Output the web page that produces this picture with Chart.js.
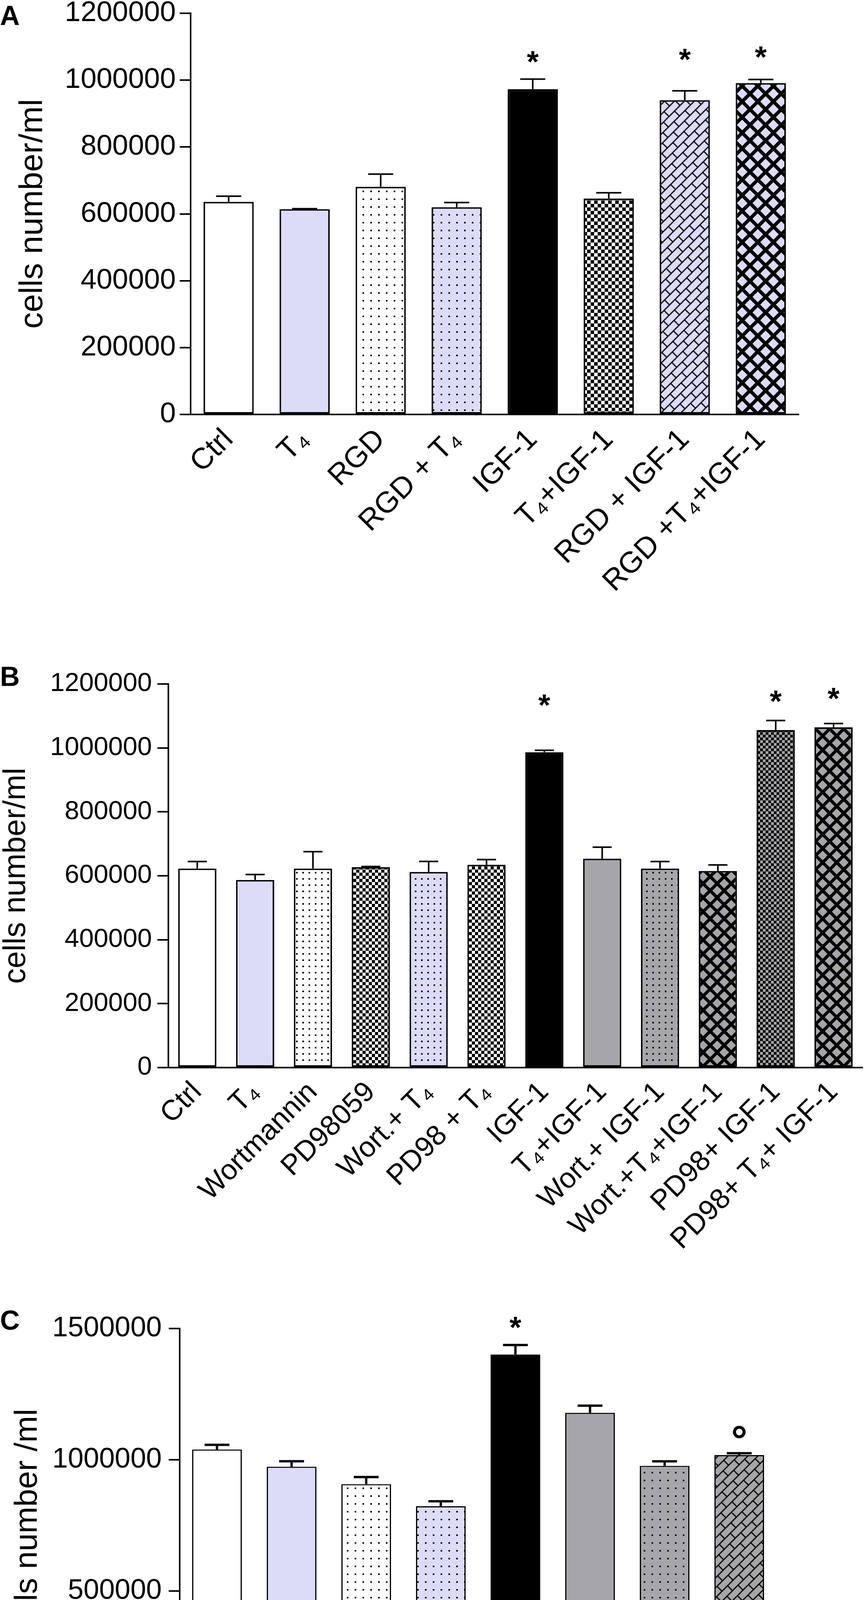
<!DOCTYPE html>
<html>
<head>
<meta charset="utf-8">
<script src="https://cdn.jsdelivr.net/npm/chart.js@4.4.1/dist/chart.umd.min.js"></script>
<style>
html,body{margin:0;padding:0;background:#fff;}
body{width:2217px;height:4884px;position:relative;overflow:hidden;}
canvas{position:absolute;left:0;display:block;}
</style>
</head>
<body>
<canvas id="ca" width="2217" height="1650" style="top:0px"></canvas>
<canvas id="cb" width="2217" height="1650" style="top:1650px"></canvas>
<canvas id="cc" width="2217" height="1584" style="top:3300px"></canvas>
<script>
// ---------------- DATA ----------------
const categoriesA = ['Ctrl', 'T\u2084', 'RGD', 'RGD + T\u2084', 'IGF-1', 'T\u2084+IGF-1', 'RGD + IGF-1', 'RGD +T\u2084+IGF-1'];
const meansA = [636000, 614000, 681000, 620000, 973000, 646000, 940000, 991000];
const semA = [17000, 1500, 38000, 14000, 30000, 17000, 28000, 11000];
const marksA = ['', '', '', '', '*', '', '*', '*'];
const markLevelsA = [null, null, null, null, 1075000, null, 1083000, 1089000];
const yTicksA = [0, 200000, 400000, 600000, 800000, 1000000, 1200000];

const categoriesB = ['Ctrl', 'T\u2084', 'Wortmannin', 'PD98059', 'Wort.+ T\u2084', 'PD98 + T\u2084', 'IGF-1', 'T\u2084+IGF-1', 'Wort.+ IGF-1', 'Wort.+T\u2084+IGF-1', 'PD98+ IGF-1', 'PD98+ T\u2084+ IGF-1'];
const meansB = [622500, 587000, 622500, 627000, 612000, 634600, 986600, 653400, 622500, 615000, 1055800, 1064300];
const semB = [22000, 17000, 53000, 2000, 33000, 16000, 6000, 36000, 22000, 19000, 30000, 12000];
const marksB = ['', '', '', '', '', '', '*', '', '', '', '*', '*'];
const markLevelsB = [null, null, null, null, null, null, 1155000, null, null, null, 1167000, 1176000];
const yTicksB = [0, 200000, 400000, 600000, 800000, 1000000, 1200000];

const categoriesC = ['Ctrl', 'T\u2084 10\u207B\u2077 M', 'RGD', 'T\u2084+RGD', 'MCP-1', 'T\u2084+MCP-1', 'MCP-1+RGD', 'T\u2084+RGD+MCP-1'];
const meansC = [1039000, 973500, 907000, 823000, 1401000, 1179000, 977000, 1018000];
const semC = [18000, 21000, 27000, 19000, 36000, 27000, 17000, 7000];
const marksC = ['', '', '', '', '*', '', '', '\u00B0'];
const markLevelsC = [null, null, null, null, 1530000, null, null, 1110000];
const yTicksC = [0, 500000, 1000000, 1500000];

// ---------------- STYLE HELPERS ----------------
const FONT = "'Liberation Sans', Arial, Helvetica, sans-serif";
const LAV = '#dcdcf9';
const GREY = '#a6a6aa';
const WHITE = '#ffffff';
const BLACK = '#000000';

function tile(w, h, draw) {
  const c = document.createElement('canvas');
  c.width = w; c.height = h;
  draw(c.getContext('2d'), w, h);
  return c;
}
function dots(ctx, bg, step, size) {
  return ctx.createPattern(tile(step, step, g => {
    g.fillStyle = bg; g.fillRect(0, 0, step, step);
    g.fillStyle = BLACK; g.fillRect(Math.round((step - size) / 2), Math.round((step - size) / 2), size, size);
  }), 'repeat');
}
function checker(ctx, bg, fg, cell) {
  return ctx.createPattern(tile(2 * cell, 2 * cell, g => {
    g.fillStyle = bg; g.fillRect(0, 0, 2 * cell, 2 * cell);
    g.fillStyle = fg; g.fillRect(0, 0, cell, cell); g.fillRect(cell, cell, cell, cell);
  }), 'repeat');
}
function cross(ctx, bg, P, lw) {
  return ctx.createPattern(tile(P, P, g => {
    g.fillStyle = bg; g.fillRect(0, 0, P, P);
    g.strokeStyle = BLACK; g.lineWidth = lw; g.beginPath();
    for (let k = -1; k <= 1; k++) {
      g.moveTo(k * P, 0); g.lineTo(k * P + P, P);
      g.moveTo(k * P, P); g.lineTo(k * P + P, 0);
    }
    g.stroke();
  }), 'repeat');
}
function brick(ctx, bg, b, L, lw) {
  const p = ctx.createPattern(tile(L, 2 * b, g => {
    g.fillStyle = bg; g.fillRect(0, 0, L, 2 * b);
    g.strokeStyle = BLACK; g.lineWidth = lw; g.beginPath();
    g.moveTo(0, 0); g.lineTo(L, 0);
    g.moveTo(0, b); g.lineTo(L, b);
    g.moveTo(0, 2 * b); g.lineTo(L, 2 * b);
    g.moveTo(0, 0); g.lineTo(0, b);
    g.moveTo(L, 0); g.lineTo(L, b);
    g.moveTo(L / 2, b); g.lineTo(L / 2, 2 * b);
    g.stroke();
  }), 'repeat');
  if (p.setTransform) p.setTransform(new DOMMatrix().rotate(-45));
  return p;
}

// ---------------- PLUGIN (error bars, significance marks, panel letter) ----------------
function decorations(sem, marks, levels, letter, letterY, lw) {
  return {
    id: 'decor' + letter,
    afterDatasetsDraw(chart) {
      const ctx = chart.ctx;
      const ys = chart.scales.y;
      const meta = chart.getDatasetMeta(0);
      const vals = chart.data.datasets[0].data;
      ctx.save();
      ctx.strokeStyle = BLACK;
      ctx.lineWidth = lw;
      meta.data.forEach((bar, i) => {
        const top = ys.getPixelForValue(vals[i]);
        const end = ys.getPixelForValue(vals[i] + sem[i]);
        const half = bar.width / 4;
        ctx.beginPath();
        ctx.moveTo(bar.x, top); ctx.lineTo(bar.x, end);
        ctx.moveTo(bar.x - half, end); ctx.lineTo(bar.x + half, end);
        ctx.stroke();
        if (marks[i]) {
          const size = marks[i] === '*' ? 78 : 104;
          ctx.font = 'bold ' + size + 'px ' + FONT;
          ctx.fillStyle = BLACK;
          ctx.textAlign = 'center';
          ctx.textBaseline = 'alphabetic';
          ctx.fillText(marks[i], bar.x, ys.getPixelForValue(levels[i]) + 0.57 * size);
        }
      });
      ctx.font = 'bold 70px ' + FONT;
      ctx.textAlign = 'left';
      ctx.textBaseline = 'alphabetic';
      ctx.fillStyle = BLACK;
      ctx.fillText(letter, 0, letterY);
      ctx.restore();
    }
  };
}

function makeChart(id, cfg) {
  const canvas = document.getElementById(id);
  const ctx = canvas.getContext('2d');
  const fills = cfg.fills(ctx);
  return new Chart(ctx, {
    type: 'bar',
    data: {
      labels: cfg.labels,
      datasets: [{
        data: cfg.values,
        backgroundColor: fills,
        borderColor: BLACK,
        borderWidth: cfg.barBorder,
        borderSkipped: false,
        barPercentage: cfg.barPct,
        categoryPercentage: 1
      }]
    },
    options: {
      responsive: false,
      animation: false,
      devicePixelRatio: 1,
      layout: { padding: { left: 0, top: cfg.area.top, right: canvas.width - cfg.area.right, bottom: 0 } },
      plugins: { legend: { display: false }, tooltip: { enabled: false }, title: { display: false } },
      scales: {
        x: {
          type: 'category',
          offset: true,
          grid: { display: false, drawTicks: false },
          border: { display: true, width: cfg.axisW, color: BLACK },
          ticks: {
            autoSkip: false, maxRotation: 45, minRotation: 45,
            color: BLACK, padding: cfg.xPad,
            font: { family: FONT, size: cfg.xFont }
          },
          afterFit(s) { s.height = canvas.height - cfg.area.bottom; s.paddingLeft = 0; s.paddingRight = 0; }
        },
        y: {
          min: cfg.yTicks[0],
          max: cfg.yTicks[cfg.yTicks.length - 1],
          afterBuildTicks(s) { s.ticks = cfg.yTicks.map(v => ({ value: v })); },
          ticks: {
            color: BLACK, padding: cfg.yPad,
            font: { family: FONT, size: cfg.yFont },
            callback: v => String(v)
          },
          grid: { display: true, drawOnChartArea: false, drawTicks: true, tickLength: 28, color: BLACK, lineWidth: cfg.axisW },
          border: { display: true, width: cfg.axisW, color: BLACK },
          title: {
            display: true, text: cfg.yTitle, color: BLACK,
            font: { family: FONT, size: cfg.titleFont, lineHeight: 1 },
            padding: { top: cfg.titlePad, bottom: 0 }
          },
          afterFit(s) { s.width = cfg.area.left; s.paddingTop = 0; s.paddingBottom = 0; }
        }
      }
    },
    plugins: [decorations(cfg.sem, cfg.marks, cfg.levels, cfg.letter, cfg.letterY, cfg.errW)]
  });
}

makeChart('ca', {
  labels: categoriesA, values: meansA, sem: semA, marks: marksA, levels: markLevelsA, yTicks: yTicksA,
  fills: ctx => [WHITE, LAV, dots(ctx, WHITE, 20, 4), dots(ctx, LAV, 20, 4), BLACK,
    checker(ctx, WHITE, BLACK, 9), brick(ctx, LAV, 18, 40, 3), cross(ctx, LAV, 40, 9)],
  area: { left: 488, right: 2045, top: 34, bottom: 1061 },
  barPct: 0.66, barBorder: 4, axisW: 4, errW: 4,
  xFont: 76, xPad: 20, yFont: 73, yPad: 10,
  yTitle: 'cells number/ml', titleFont: 84, titlePad: 43,
  letter: 'A', letterY: 64
});

makeChart('cb', {
  labels: categoriesB, values: meansB, sem: semB, marks: marksB, levels: markLevelsB, yTicks: yTicksB,
  fills: ctx => [WHITE, LAV, dots(ctx, WHITE, 16, 4), checker(ctx, WHITE, BLACK, 8), dots(ctx, LAV, 16, 4),
    checker(ctx, WHITE, BLACK, 8), BLACK, GREY, dots(ctx, GREY, 16, 4), cross(ctx, GREY, 36, 8),
    checker(ctx, GREY, BLACK, 7), cross(ctx, GREY, 36, 8)],
  area: { left: 431, right: 2208, top: 101, bottom: 1083 },
  barPct: 0.66, barBorder: 4, axisW: 4, errW: 4,
  xFont: 73, xPad: 20, yFont: 67, yPad: 14,
  yTitle: 'cells number/ml', titleFont: 79, titlePad: 3,
  letter: 'B', letterY: 106
});

makeChart('cc', {
  labels: categoriesC, values: meansC, sem: semC, marks: marksC, levels: markLevelsC, yTicks: yTicksC,
  fills: ctx => [WHITE, LAV, dots(ctx, WHITE, 20, 4), dots(ctx, LAV, 20, 4), BLACK, GREY,
    dots(ctx, GREY, 20, 4), brick(ctx, GREY, 18, 40, 3)],
  area: { left: 460, right: 1988, top: 101, bottom: 1109 },
  barPct: 0.665, barBorder: 3, axisW: 4, errW: 6,
  xFont: 70, xPad: 16, yFont: 72, yPad: 18,
  yTitle: 'cells number /ml', titleFont: 82, titlePad: 30,
  letter: 'C', letterY: 104
});
</script>
</body>
</html>
